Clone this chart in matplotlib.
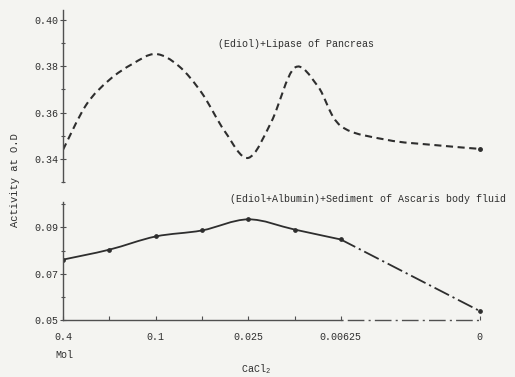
import matplotlib
matplotlib.use("Agg")
import matplotlib.pyplot as plt
from matplotlib.path import Path
from matplotlib.patches import PathPatch
from matplotlib.ticker import FixedLocator, MultipleLocator

# ---- data -------------------------------------------------------------
# concentration steps of CaCl2 (Mol), positions 0..9 on the x axis
tick_pos = [0, 1, 2, 3, 4, 5, 6, 9]
tick_labels = ["0.4", "", "0.1", "", "0.025", "", "0.00625", "0"]

# (Ediol)+Lipase of Pancreas
lipase_x = [0, 0.5, 1, 1.5, 2, 2.5, 3, 3.5, 4, 4.5, 5, 5.5, 6, 7, 8, 9]
lipase_y = [0.3439, 0.3633, 0.3741, 0.3810, 0.3853, 0.3801, 0.3684, 0.3517,
            0.3404, 0.3560, 0.3793, 0.3715, 0.3542, 0.3482, 0.3460, 0.3443]

# (Ediol+Albumin)+Sediment of Ascaris body fluid
ascaris_x = [0, 1, 2, 3, 4, 5, 6]
ascaris_y = [0.0761, 0.0804, 0.0861, 0.0887, 0.0935, 0.0891, 0.0848]
ascaris_tail_x = [6, 9]
ascaris_tail_y = [0.0848, 0.0539]

top_ticks_major = [0.34, 0.36, 0.38, 0.40]
top_tick_labels = ["0.34", "0.36", "0.38", "0.40"]
bot_ticks_major = [0.05, 0.07, 0.09]
bot_tick_labels = ["0.05", "0.07", "0.09"]

# ---- style ------------------------------------------------------------
W, H = 515, 377
DPI = 100
paper = "#f4f4f1"
ink = "#2e2e2e"
axis_ink = "#505050"
FONT = "Liberation Mono"
FS = 7.2

plt.rcParams["font.family"] = [FONT, "DejaVu Sans Mono"]
plt.rcParams["mathtext.fontset"] = "custom"
plt.rcParams["mathtext.rm"] = FONT

fig = plt.figure(figsize=(W / DPI, H / DPI), dpi=DPI, facecolor=paper)

x_max = 9.1
px_per_step = 46.3
x0 = 63
ax_w = x_max * px_per_step


def add_panel(top_px, bottom_px):
    return fig.add_axes([x0 / W, 1 - bottom_px / H, ax_w / W,
                         (bottom_px - top_px) / H])


def smooth_path(xs, ys):
    """Catmull-Rom curve through the points, as cubic Bezier segments."""
    pts = list(zip(xs, ys))
    verts = [pts[0]]
    codes = [Path.MOVETO]
    n = len(pts)
    for i in range(n - 1):
        p0 = pts[i - 1] if i > 0 else pts[i]
        p1 = pts[i]
        p2 = pts[i + 1]
        p3 = pts[i + 2] if i + 2 < n else pts[i + 1]
        c1 = (p1[0] + (p2[0] - p0[0]) / 6, p1[1] + (p2[1] - p0[1]) / 6)
        c2 = (p2[0] - (p3[0] - p1[0]) / 6, p2[1] - (p3[1] - p1[1]) / 6)
        verts += [c1, c2, p2]
        codes += [Path.CURVE4] * 3
    return Path(verts, codes)


ax_top = add_panel(10, 182)
ax_bot = add_panel(202, 320)

for ax in (ax_top, ax_bot):
    ax.set_facecolor("none")
    ax.set_xlim(0, x_max)
    for s in ("top", "right"):
        ax.spines[s].set_visible(False)
    ax.spines["left"].set_color(axis_ink)
    ax.spines["left"].set_linewidth(1.0)
    ax.tick_params(axis="y", which="both", direction="inout", length=4,
                   width=0.8, color=axis_ink, labelsize=FS,
                   labelcolor=ink, pad=1)
    ax.tick_params(axis="y", which="minor", length=3)

# top panel: no x axis
ax_top.spines["bottom"].set_visible(False)
ax_top.set_xticks([])
ax_top.set_ylim(0.33, 0.4043)
ax_top.set_yticks(top_ticks_major)
ax_top.set_yticklabels(top_tick_labels)
ax_top.yaxis.set_minor_locator(MultipleLocator(0.01))

lipase_curve = PathPatch(smooth_path(lipase_x, lipase_y), facecolor="none",
                         edgecolor=ink, lw=1.5, linestyle=(0, (3.4, 2.2)),
                         capstyle="butt")
ax_top.add_patch(lipase_curve)
ax_top.plot(lipase_x[-1], lipase_y[-1], "o", color=ink, ms=2.5)

# bottom panel
ax_bot.set_ylim(0.05, 0.101)
ax_bot.set_yticks(bot_ticks_major)
ax_bot.set_yticklabels(bot_tick_labels)
ax_bot.yaxis.set_minor_locator(MultipleLocator(0.01))

ax_bot.spines["bottom"].set_color(axis_ink)
ax_bot.spines["bottom"].set_linewidth(1.0)
ax_bot.spines["bottom"].set_bounds(0, ascaris_tail_x[0])
ax_bot.plot([ascaris_tail_x[0], ascaris_tail_x[-1]], [0, 0],
            transform=ax_bot.get_xaxis_transform(), color=axis_ink, lw=1.0,
            dashes=(1.5, 3, 12, 3), clip_on=False)

ax_bot.xaxis.set_major_locator(FixedLocator(tick_pos))
ax_bot.set_xticklabels(tick_labels)
ax_bot.tick_params(axis="x", direction="in", length=3, width=0.8,
                   color=axis_ink, labelsize=FS, labelcolor=ink, pad=9)

ascaris_curve = PathPatch(smooth_path(ascaris_x, ascaris_y),
                          facecolor="none", edgecolor=ink, lw=1.3)
ax_bot.add_patch(ascaris_curve)
ax_bot.plot(ascaris_x, ascaris_y, "o", color=ink, ms=2.4)
ax_bot.plot(ascaris_tail_x, ascaris_tail_y, color=ink, lw=1.3,
            dashes=(9, 2.2, 1.2, 2.2))
ax_bot.plot(ascaris_tail_x[-1], ascaris_tail_y[-1], "o", color=ink, ms=2.4)

# ---- text -------------------------------------------------------------
fig.text(218 / W, 1 - 44 / H, "(Ediol)+Lipase of Pancreas",
         fontsize=FS, color=ink, va="center", ha="left")
fig.text(230 / W, 1 - 199 / H,
         "(Ediol+Albumin)+Sediment of Ascaris body fluid",
         fontsize=FS, color=ink, va="center", ha="left")
fig.text(55 / W, 1 - 355 / H, "Mol", fontsize=FS, color=ink,
         va="center", ha="left")
fig.text(256 / W, 1 - 369 / H, r"CaCl$_2$", fontsize=FS, color=ink,
         va="center", ha="center")
fig.text(15 / W, 1 - 180 / H, "Activity at O.D", fontsize=7.6,
         color=ink, va="center", ha="center", rotation=90)

fig.savefig("out.png", dpi=DPI, facecolor=paper)
